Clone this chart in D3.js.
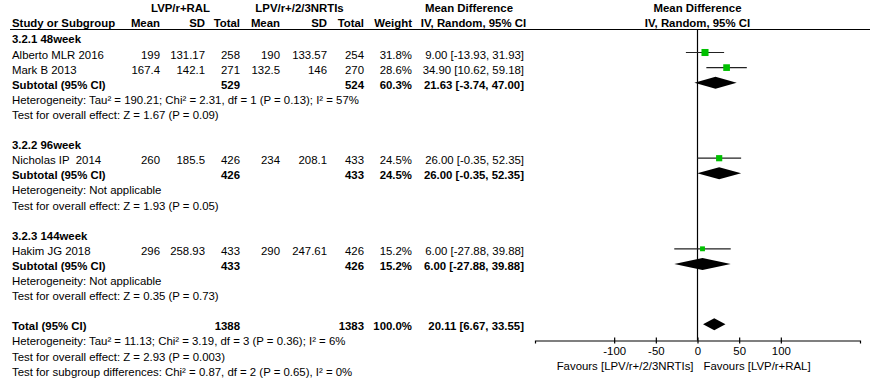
<!DOCTYPE html>
<html>
<head>
<meta charset="utf-8">
<script src="https://cdn.jsdelivr.net/npm/d3@7"></script>
<style>
  body { margin: 0; background: #fff; }
  svg { display: block; font-family: "Liberation Sans", Arial, sans-serif; font-size: 11.4px; }
  text { white-space: pre; }
</style>
</head>
<body>
<div id="chart"></div>
<script>
// study-level data
const studies   = ["Alberto MLR 2016", "Mark B 2013", "Nicholas IP  2014", "Hakim JG 2018"];
const studyGrp  = [0, 0, 1, 2];
const expMean   = [199, 167.4, 260, 296];
const expSD     = [131.17, 142.1, 185.5, 258.93];
const expN      = [258, 271, 426, 433];
const ctrlMean  = [190, 132.5, 234, 290];
const ctrlSD    = [133.57, 146, 208.1, 247.61];
const ctrlN     = [254, 270, 433, 426];
const weights   = [31.8, 28.6, 24.5, 15.2];
const md        = [9.00, 34.90, 26.00, 6.00];
const mdLo      = [-13.93, 10.62, -0.35, -27.88];
const mdHi      = [31.93, 59.18, 52.35, 39.88];

// subgroup data
const groups      = ["3.2.1 48week", "3.2.2 96week", "3.2.3 144week"];
const grpExpN     = [529, 426, 433];
const grpCtrlN    = [524, 433, 426];
const grpWeight   = [60.3, 24.5, 15.2];
const grpMd       = [21.63, 26.00, 6.00];
const grpLo       = [-3.74, -0.35, -27.88];
const grpHi       = [47.00, 52.35, 39.88];
const grpHet      = ["Heterogeneity: Tau² = 190.21; Chi² = 2.31, df = 1 (P = 0.13); I² = 57%",
                     "Heterogeneity: Not applicable", "Heterogeneity: Not applicable"];
const grpTest     = ["Test for overall effect: Z = 1.67 (P = 0.09)",
                     "Test for overall effect: Z = 1.93 (P = 0.05)",
                     "Test for overall effect: Z = 0.35 (P = 0.73)"];

// overall
const totExpN = 1388, totCtrlN = 1383, totWeight = 100.0;
const totMd = 20.11, totLo = 6.67, totHi = 33.55;
const totNotes = ["Heterogeneity: Tau² = 11.13; Chi² = 3.19, df = 3 (P = 0.36); I² = 6%",
                  "Test for overall effect: Z = 2.93 (P = 0.003)",
                  "Test for subgroup differences: Chi² = 0.87, df = 2 (P = 0.65), I² = 0%"];

const axisTicks = [-100, -50, 0, 50, 100];
const favLeft = "Favours [LPV/r+/2/3NRTIs]";
const favRight = "Favours [LVP/r+RAL]";

const W = 873, H = 381;
const rowH = 15.1, row0 = 43.4;   // text baseline of first body row
const colR = { eMean: 160, eSD: 205, eN: 240, cMean: 280, cSD: 327, cN: 364, wt: 412, ci: 524 };

const svg = d3.select("#chart").append("svg").attr("width", W).attr("height", H);

const x = d3.scaleLinear().domain([-195, 195]).range([535, 860]);
const x0 = x(0);

// build rows
const rows = [];
groups.forEach((g, gi) => {
  rows.push({ type: "head", label: g });
  studies.forEach((s, i) => { if (studyGrp[i] === gi) rows.push({ type: "study", i }); });
  rows.push({ type: "sub", gi });
  rows.push({ type: "note", label: grpHet[gi] });
  rows.push({ type: "note", label: grpTest[gi] });
  rows.push({ type: "blank" });
});
rows.push({ type: "total" });
totNotes.forEach(t => rows.push({ type: "note", label: t }));

const txt = (xp, yp, s, anchor, bold) => svg.append("text")
  .attr("x", xp).attr("y", yp)
  .attr("text-anchor", anchor || "start")
  .attr("font-weight", bold ? "bold" : "normal")
  .text(s);

// header
txt(180.5, 11.5, "LVP/r+RAL", "middle", true);
txt(299.5, 11.5, "LPV/r+/2/3NRTIs", "middle", true);
txt(469, 11.5, "Mean Difference", "middle", true);
txt(x0, 11.5, "Mean Difference", "middle", true);
txt(12, 27.3, "Study or Subgroup", "start", true);
[["Mean", colR.eMean], ["SD", colR.eSD], ["Total", colR.eN], ["Mean", colR.cMean],
 ["SD", colR.cSD], ["Total", colR.cN], ["Weight", colR.wt]].forEach(([s, c]) => txt(c, 27.3, s, "end", true));
txt(473.5, 27.3, "IV, Random, 95% CI", "middle", true);
txt(x0, 27.3, "IV, Random, 95% CI", "middle", true);

svg.append("line").attr("x1", 10).attr("x2", 870).attr("y1", 29.5).attr("y2", 29.5)
  .attr("stroke", "#000").attr("stroke-width", 1.2);

const axisY = 340.5;
// zero line
svg.append("line").attr("x1", x0).attr("x2", x0).attr("y1", 29.5).attr("y2", axisY)
  .attr("stroke", "#000").attr("stroke-width", 1.2);

const ciStr = (m, l, h) => `${m.toFixed(2)} [${l.toFixed(2)}, ${h.toFixed(2)}]`;
const diamond = (yc, m, l, h) => svg.append("path")
  .attr("d", `M${x(l)},${yc} L${x(m)},${yc - 6} L${x(h)},${yc} L${x(m)},${yc + 6} Z`)
  .attr("fill", "#000");

rows.forEach((r, k) => {
  const y = row0 + k * rowH;
  const ym = y - 6;
  if (r.type === "head") txt(12, y, r.label, "start", true);
  else if (r.type === "note") txt(12, y, r.label);
  else if (r.type === "study") {
    const i = r.i;
    txt(12, y, studies[i]);
    txt(colR.eMean, y, expMean[i], "end");
    txt(colR.eSD, y, expSD[i], "end");
    txt(colR.eN, y, expN[i], "end");
    txt(colR.cMean, y, ctrlMean[i], "end");
    txt(colR.cSD, y, ctrlSD[i], "end");
    txt(colR.cN, y, ctrlN[i], "end");
    txt(colR.wt, y, weights[i].toFixed(1) + "%", "end");
    txt(colR.ci, y, ciStr(md[i], mdLo[i], mdHi[i]), "end");
    svg.append("line").attr("x1", x(mdLo[i])).attr("x2", x(mdHi[i]))
      .attr("y1", ym).attr("y2", ym).attr("stroke", "#222").attr("stroke-width", 1.2);
    const s = 1.25 * Math.sqrt(weights[i]);
    svg.append("rect").attr("x", x(md[i]) - s / 2).attr("y", ym - s / 2)
      .attr("width", s).attr("height", s).attr("fill", "#00c000");
  } else if (r.type === "sub") {
    const g = r.gi;
    txt(12, y, "Subtotal (95% CI)", "start", true);
    txt(colR.eN, y, grpExpN[g], "end", true);
    txt(colR.cN, y, grpCtrlN[g], "end", true);
    txt(colR.wt, y, grpWeight[g].toFixed(1) + "%", "end", true);
    txt(colR.ci, y, ciStr(grpMd[g], grpLo[g], grpHi[g]), "end", true);
    diamond(ym, grpMd[g], grpLo[g], grpHi[g]);
  } else if (r.type === "total") {
    txt(12, y, "Total (95% CI)", "start", true);
    txt(colR.eN, y, totExpN, "end", true);
    txt(colR.cN, y, totCtrlN, "end", true);
    txt(colR.wt, y, totWeight.toFixed(1) + "%", "end", true);
    txt(colR.ci, y, ciStr(totMd, totLo, totHi), "end", true);
    diamond(ym, totMd, totLo, totHi);
  }
});

// axis
const ax = svg.append("g").attr("transform", `translate(0,${axisY})`)
  .call(d3.axisBottom(x).tickValues(axisTicks).tickFormat(d => String(d))
    .tickSizeOuter(0).tickSize(3).tickPadding(3));
ax.select(".domain").attr("stroke", "#000").attr("stroke-width", 1.2);
ax.selectAll(".tick line").attr("y1", -3).attr("y2", 3).attr("stroke", "#000").attr("stroke-width", 1.2);
ax.selectAll(".tick text").attr("font-size", 11.4).attr("font-family", "Liberation Sans, Arial, sans-serif").attr("fill", "#000");

txt(x0 - 4, 370, favLeft, "end");
txt(x0 + 6, 370, favRight, "start");
</script>
</body>
</html>
